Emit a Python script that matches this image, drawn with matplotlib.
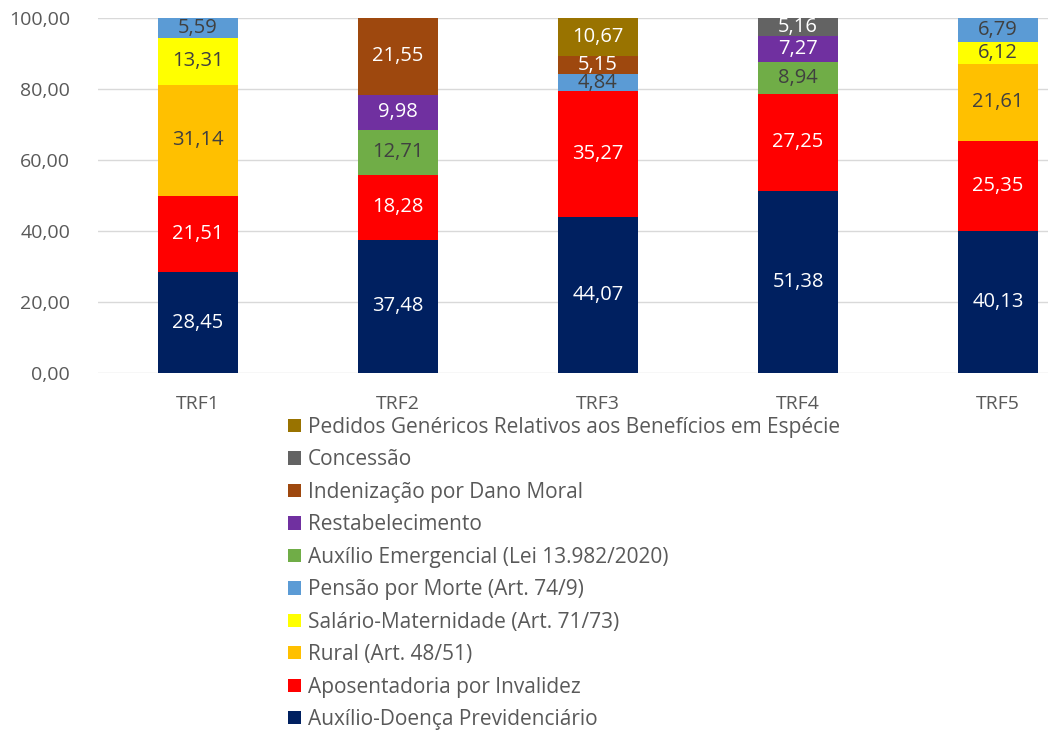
import numpy as np
import matplotlib.pyplot as plt
from matplotlib.font_manager import fontManager

# Categories and series (bottom to top of each stacked bar)
tribunais = ['TRF1', 'TRF2', 'TRF3', 'TRF4', 'TRF5']

series_names = [
    'Auxílio-Doença Previdenciário',
    'Aposentadoria por Invalidez',
    'Rural (Art. 48/51)',
    'Salário-Maternidade (Art. 71/73)',
    'Pensão por Morte (Art. 74/9)',
    'Auxílio Emergencial (Lei 13.982/2020)',
    'Restabelecimento',
    'Indenização por Dano Moral',
    'Concessão',
    'Pedidos Genéricos Relativos aos Benefícios em Espécie',
]

auxilio_doenca = [28.45, 37.48, 44.07, 51.38, 40.13]
aposentadoria = [21.51, 18.28, 35.27, 27.25, 25.35]
rural = [31.14, 0, 0, 0, 21.61]
salario_mat = [13.31, 0, 0, 0, 6.12]
pensao = [5.59, 0, 4.84, 0, 6.79]
aux_emergencial = [0, 12.71, 0, 8.94, 0]
restabelecimento = [0, 9.98, 0, 7.27, 0]
dano_moral = [0, 21.55, 5.15, 0, 0]
concessao = [0, 0, 0, 5.16, 0]
genericos = [0, 0, 10.67, 0, 0]

values = [auxilio_doenca, aposentadoria, rural, salario_mat, pensao,
          aux_emergencial, restabelecimento, dano_moral, concessao, genericos]

colors = ['#002060', '#FF0000', '#FFC000', '#FFFF00', '#5B9BD5',
          '#70AD47', '#7030A0', '#9E480E', '#636363', '#997300']
label_colors = ['white', 'white', '#404040', '#404040', '#404040',
                '#404040', 'white', 'white', 'white', 'white']

names = {f.name for f in fontManager.ttflist}
fam = 'Liberation Sans Narrow' if 'Liberation Sans Narrow' in names else 'Open Sans'
plt.rcParams['font.family'] = [fam, 'DejaVu Sans']

fig = plt.figure(figsize=(10.48, 7.34), dpi=100)
ax = fig.add_axes([98 / 1048, 1 - 373 / 734, 950 / 1048, 355 / 734])

x = np.arange(len(tribunais))
bottom = np.zeros(len(tribunais))
handles = []
for name, vals, col, lc in zip(series_names, values, colors, label_colors):
    vals = np.array(vals, dtype=float)
    bars = ax.bar(x, vals, 0.4, bottom=bottom, color=col, label=name, zorder=3)
    labels = [f'{v:.2f}'.replace('.', ',') if v > 0 else '' for v in vals]
    ax.bar_label(bars, labels=labels, label_type='center', color=lc, fontsize=14.5)
    bottom += vals
    handles.append(bars)

ax.set_xlim(-0.5, 4.25)
ax.set_ylim(0, 100)
ax.set_yticks(np.arange(0, 101, 20))
ax.set_yticklabels([f'{v:.2f}'.replace('.', ',') for v in np.arange(0, 101, 20)])
ax.set_xticks(x)
ax.set_xticklabels(tribunais)
ax.tick_params(length=0, labelsize=14, colors='#595959')
ax.tick_params(axis='x', pad=16)
ax.tick_params(axis='y', pad=20)
ax.grid(axis='y', color='#D9D9D9', linewidth=1, zorder=0)
for s in ax.spines.values():
    s.set_visible(False)

leg = fig.legend(handles[::-1], series_names[::-1], loc='upper left',
                 bbox_to_anchor=(288 / 1048, 1 - 417 / 734), frameon=False,
                 fontsize=15, labelcolor='#595959', handlelength=0.6,
                 handleheight=0.6, handletextpad=0.35, labelspacing=0.55,
                 borderaxespad=0, borderpad=0)

fig.savefig('out.png', dpi=100)
